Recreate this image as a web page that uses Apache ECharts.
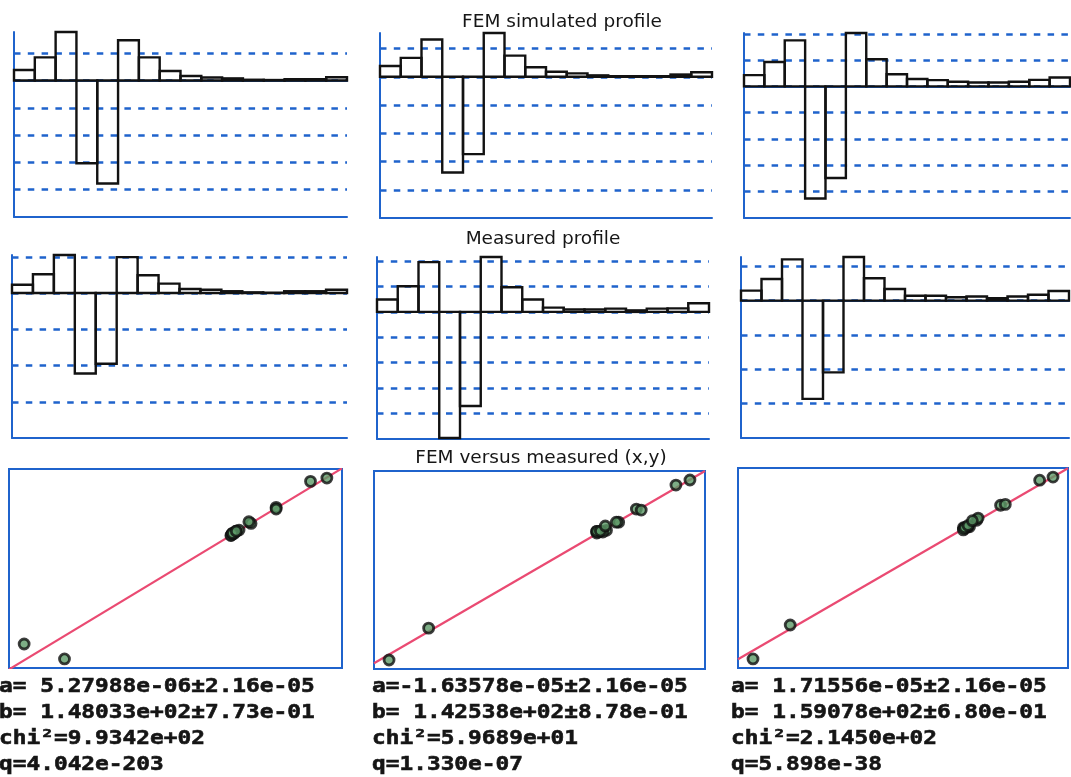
<!DOCTYPE html>
<html>
<head>
<meta charset="utf-8">
<title>FEM simulated versus measured profile</title>
<script src="https://cdn.jsdelivr.net/npm/echarts@6/dist/echarts.min.js"></script>
<style>
  html, body { margin: 0; padding: 0; background: #ffffff; }
  #chart { width: 1071px; height: 777px; }
</style>
</head>
<body>
<div id="chart"></div>
<script>
// Profile segments along the scan
const segments = ['1','2','3','4','5','6','7','8','9','10','11','12','13','14','15','16'];

// FEM simulated profile, one array per case (plotted units)
const femCase1 = [0.39, 0.85, 1.78, -3.03, -3.77, 1.48, 0.85, 0.35, 0.17, 0.11, 0.08, 0.03, 0.02, 0.05, 0.05, 0.12];
const femCase2 = [0.38, 0.67, 1.32, -3.39, -2.74, 1.55, 0.75, 0.34, 0.18, 0.12, 0.05, 0.02, 0.02, 0.02, 0.08, 0.16];
const femCase3 = [0.43, 0.93, 1.75, -4.26, -3.48, 2.03, 1.03, 0.46, 0.28, 0.24, 0.18, 0.15, 0.15, 0.18, 0.25, 0.34];

// Measured profile, one array per case
const measCase1 = [0.23, 0.52, 1.05, -2.22, -1.95, 0.99, 0.49, 0.26, 0.11, 0.09, 0.05, 0.02, 0.01, 0.05, 0.05, 0.09];
const measCase2 = [0.49, 1.01, 1.96, -4.96, -3.70, 2.16, 0.97, 0.49, 0.17, 0.10, 0.10, 0.13, 0.06, 0.13, 0.14, 0.34];
const measCase3 = [0.29, 0.63, 1.20, -2.86, -2.09, 1.27, 0.65, 0.34, 0.14, 0.14, 0.10, 0.12, 0.07, 0.12, 0.17, 0.28];

// Lower ends of the profile value axes
const femAxisMin  = [-5, -5, -5];
const measAxisMin = [-4, -5, -4];

// Straight-line fit  measured = a + b * FEM
const fitA    = [5.27988e-06, -1.63578e-05, 1.71556e-05];
const fitAErr = [2.16e-05, 2.16e-05, 2.16e-05];
const fitB    = [1.48033e+02, 1.42538e+02, 1.59078e+02];
const fitBErr = [7.73e-01, 8.78e-01, 6.80e-01];
const fitChi2 = [9.9342e+02, 5.9689e+01, 2.1450e+02];
const fitQ    = [4.042e-203, 1.330e-07, 5.898e-38];

// FEM units (as used in the fit) per plotted FEM unit
const femUnit = [4.02e-3, 9.82e-3, 3.94e-3];

const femCases  = [femCase1, femCase2, femCase3];
const measCases = [measCase1, measCase2, measCase3];

// ---- layout ----
const BLUE = '#1f63cc';
const profileBoxes = [
  [14, 32, 333, 185], [380, 33, 332, 185], [744, 33, 326, 185],
  [12, 255, 335, 183], [377, 257, 332, 182], [741, 257, 328, 181]
];
const scatterBoxes = [[9, 469, 333, 199], [374, 471, 331, 198], [738, 468, 330, 200]];

const grids = [], xAxes = [], yAxes = [], series = [];

// Outlined histogram bar spanning the whole category band
function histogramBar(params, api) {
  const base = api.coord([api.value(0), 0]);
  const tip = api.coord([api.value(0), api.value(1)]);
  const w = api.size([1, 0])[0];
  return {
    type: 'rect',
    shape: { x: base[0] - w / 2, y: Math.min(base[1], tip[1]), width: w, height: Math.abs(tip[1] - base[1]) },
    style: { fill: 'none', stroke: '#121212', lineWidth: 2.4 }
  };
}

function addProfile(values, yMin, box) {
  const gi = grids.length;
  grids.push({ left: box[0], top: box[1], width: box[2], height: box[3], containLabel: false });
  // axis crossing at zero (solid baseline)
  const xi = xAxes.length;
  xAxes.push({
    type: 'category', gridIndex: gi, data: segments, boundaryGap: true,
    axisLine: { show: true, onZero: true, lineStyle: { color: BLUE, width: 2 } },
    axisTick: { show: false }, axisLabel: { show: false }, splitLine: { show: false }
  });
  // frame line along the bottom of the panel
  xAxes.push({
    type: 'category', gridIndex: gi, data: segments, boundaryGap: true, position: 'bottom',
    axisLine: { show: true, onZero: false, lineStyle: { color: BLUE, width: 2 } },
    axisTick: { show: false }, axisLabel: { show: false }, splitLine: { show: false }
  });
  const yi = yAxes.length;
  yAxes.push({
    type: 'value', gridIndex: gi, min: yMin, max: 'dataMax', interval: 1,
    axisLine: { show: true, onZero: false, lineStyle: { color: BLUE, width: 2 } },
    axisTick: { show: false }, axisLabel: { show: false },
    splitLine: {
      show: true, showMinLine: false, showMaxLine: false,
      lineStyle: { color: BLUE, width: 2.6, type: [6.5, 7.3] }
    }
  });
  series.push({
    type: 'custom', xAxisIndex: xi, yAxisIndex: yi, clip: false, animation: false, silent: true,
    renderItem: histogramBar, encode: { x: 0, y: 1 },
    data: values.map((v, k) => [k, v])
  });
}

femCases.forEach((v, i) => addProfile(v, femAxisMin[i], profileBoxes[i]));
measCases.forEach((v, i) => addProfile(v, measAxisMin[i], profileBoxes[3 + i]));

function padded(arr) {
  const lo = Math.min(...arr), hi = Math.max(...arr), pad = 0.05 * (hi - lo);
  return [lo - pad, hi + pad];
}

femCases.forEach((fem, i) => {
  const meas = measCases[i];
  const b = scatterBoxes[i];
  const gi = grids.length, xi = xAxes.length, yi = yAxes.length;
  const xr = padded(fem), yr = padded(meas);
  grids.push({ left: b[0], top: b[1], width: b[2], height: b[3], show: true,
               borderColor: BLUE, borderWidth: 2, backgroundColor: 'rgba(0,0,0,0)' });
  xAxes.push({ type: 'value', gridIndex: gi, min: xr[0], max: xr[1], show: false });
  yAxes.push({ type: 'value', gridIndex: gi, min: yr[0], max: yr[1], show: false });
  const fitY = x => fitA[i] + fitB[i] * (x * femUnit[i]);
  series.push({
    type: 'line', xAxisIndex: xi, yAxisIndex: yi, symbol: 'none', animation: false,
    silent: true, z: 2,
    lineStyle: { color: '#ea4a72', width: 2.2 },
    data: [[xr[0], fitY(xr[0])], [xr[1], fitY(xr[1])]]
  });
  series.push({
    type: 'scatter', xAxisIndex: xi, yAxisIndex: yi, animation: false, silent: true, z: 3,
    symbol: 'circle', symbolSize: 10,
    itemStyle: { color: '#5c9a68', borderColor: '#0f0f0f', borderWidth: 2.8 },
    data: fem.map((f, k) => [f, meas[k]])
  });
});

// ---- text ----
function sci(v, digits) {
  return v.toExponential(digits).replace(/e([+-])(\d)$/, 'e$10$2');
}
function signed(v, digits) {
  return (v >= 0 ? ' ' : '') + sci(v, digits);
}

const graphics = [];
const titleFont = 'normal 18.5px "DejaVu Sans"';
[['FEM simulated profile', 562, 22], ['Measured profile', 543, 239], ['FEM versus measured (x,y)', 541, 458]]
  .forEach(t => graphics.push({
    type: 'text', x: t[1], y: t[2], silent: true,
    style: { text: t[0], font: titleFont, fill: '#161616',
             textAlign: 'center', textVerticalAlign: 'middle', align: 'center', verticalAlign: 'middle' }
  }));

const colX = [-1, 372, 731];
const rowY = [687, 713, 739, 765];
const monoFont = 'bold 20px "DejaVu Sans Mono"';
for (let i = 0; i < 3; i++) {
  const lines = [
    'a=' + signed(fitA[i], 5) + '±' + sci(fitAErr[i], 2),
    'b=' + signed(fitB[i], 5) + '±' + sci(fitBErr[i], 2),
    'chi²=' + sci(fitChi2[i], 4),
    'q=' + sci(fitQ[i], 3)
  ];
  lines.forEach((s, r) => graphics.push({
    type: 'text', x: colX[i], y: rowY[r], scaleX: 1.14, silent: true,
    style: { text: s, font: monoFont, fill: '#151515', stroke: '#151515', lineWidth: 0.6,
             textAlign: 'left', textVerticalAlign: 'middle', align: 'left', verticalAlign: 'middle' }
  }));
}

const chart = echarts.init(document.getElementById('chart'), null, { renderer: 'canvas' });
chart.setOption({
  backgroundColor: '#ffffff',
  animation: false,
  grid: grids,
  xAxis: xAxes,
  yAxis: yAxes,
  series: series,
  graphic: graphics
});
</script>
</body>
</html>
